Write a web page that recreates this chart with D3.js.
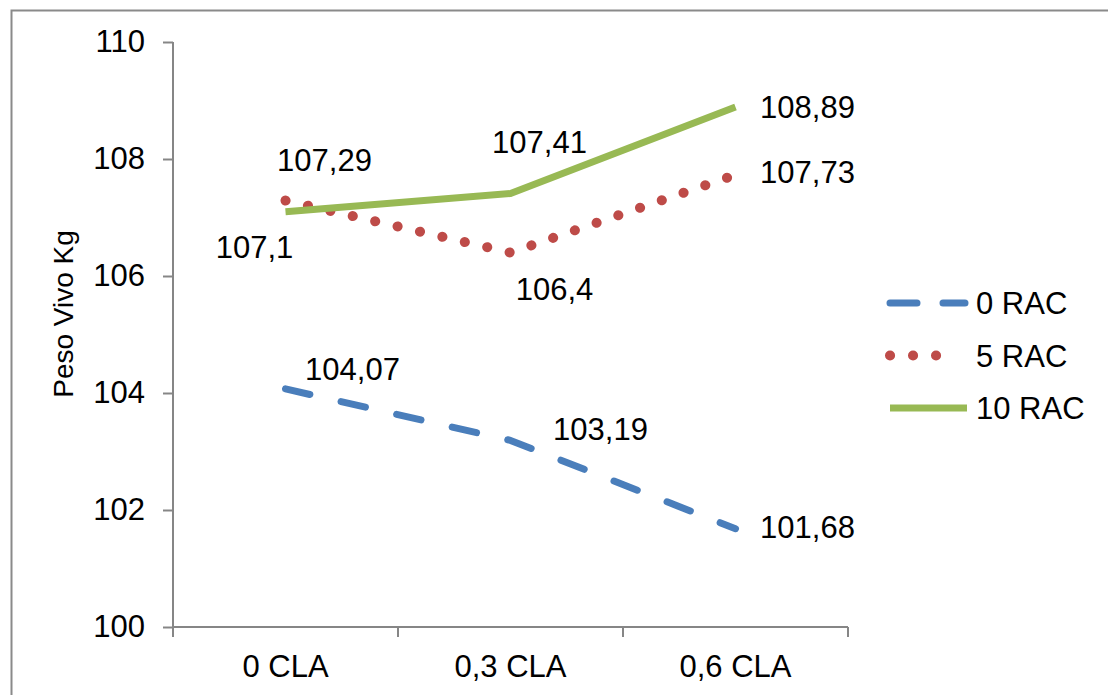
<!DOCTYPE html>
<html>
<head>
<meta charset="utf-8">
<script src="https://cdn.jsdelivr.net/npm/d3@7/dist/d3.min.js"></script>
<style>
  html, body { margin: 0; padding: 0; background: #fff; }
  svg { display: block; }
  text { font-family: "Liberation Sans", Arial, sans-serif; fill: #000; }
</style>
</head>
<body>
<svg id="chart" width="1108" height="695"></svg>
<script>
// Categories on the x axis (CLA dose)
const categories = ["0 CLA", "0,3 CLA", "0,6 CLA"];

// Live weight (kg) per RAC level
const seriesNames = ["0 RAC", "5 RAC", "10 RAC"];
const rac0  = [104.07, 103.19, 101.68];
const rac5  = [107.29, 106.40, 107.73];
const rac10 = [107.10, 107.41, 108.89];

// Y axis ticks
const yTicks = [100, 102, 104, 106, 108, 110];

// Per-series drawing styles
const styles = [
  { color: "#4a7ebb", width: 7, dash: "25 32", cap: "round", legendDash: "27 26", legendEnd: 965 },
  { color: "#be4b48", width: 10, dash: "0.1 22.9", cap: "round", legendDash: "0.1 22.9", legendEnd: 940 },
  { color: "#98b954", width: 7, dash: null, cap: "butt", legendDash: null, legendEnd: 967 }
];

// Data-label offsets (dx, dy from the point to the text centre/baseline)
const labelOffsets = [
  [[67, -9], [90, 0], [72, 9]],
  [[39, -30], [44, 47], [72, 8]],
  [[-31, 46], [29, -41], [72, 11]]
];

const series = [rac0, rac5, rac10];
const fmt = v => String(+v.toFixed(2)).replace(".", ",");

const svg = d3.select("#chart");
const font = 31;

// Outer frame
svg.append("rect")
  .attr("x", 11.5).attr("y", 10.5)
  .attr("width", 1300).attr("height", 1000)
  .attr("fill", "none").attr("stroke", "#8a8a8a").attr("stroke-width", 2);

const x0 = 173, x1 = 848, yTop = 42, yBot = 627;

const x = d3.scaleBand().domain(categories).range([x0, x1]).paddingInner(0).paddingOuter(0);
const xc = c => x(c) + x.bandwidth() / 2;
const y = d3.scaleLinear().domain([100, 110]).range([yBot, yTop]);

// Y axis
const yAxis = svg.append("g")
  .attr("transform", `translate(${x0},0)`)
  .call(d3.axisLeft(y).tickValues(yTicks).tickSize(10).tickPadding(18).tickFormat(d => d));
yAxis.select(".domain").attr("stroke", "#868686").attr("stroke-width", 2).attr("d", `M0,${yTop}V${yBot}`);
yAxis.selectAll(".tick line").attr("stroke", "#868686").attr("stroke-width", 2);
yAxis.selectAll(".tick text").attr("font-size", font).attr("font-family", "Liberation Sans, Arial, sans-serif").attr("fill", "#000");

// X axis: labels at band centres, ticks at band boundaries
const xAxis = svg.append("g")
  .attr("transform", `translate(0,${yBot})`)
  .call(d3.axisBottom(x).tickSize(0).tickPadding(28));
xAxis.select(".domain").attr("stroke", "#868686").attr("stroke-width", 2).attr("d", `M${x0},0H${x1}`);
xAxis.selectAll(".tick text").attr("font-size", font).attr("font-family", "Liberation Sans, Arial, sans-serif").attr("fill", "#000");
const bounds = categories.map(c => x(c)).concat([x1]);
svg.append("g").selectAll("line").data(bounds).join("line")
  .attr("x1", d => d).attr("x2", d => d)
  .attr("y1", yBot).attr("y2", yBot + 10)
  .attr("stroke", "#868686").attr("stroke-width", 2);

// Y axis title
svg.append("text")
  .attr("transform", "translate(73,314) rotate(-90)")
  .attr("text-anchor", "middle")
  .attr("font-size", 28)
  .text("Peso Vivo Kg");

// Series lines
const line = d3.line().x((d, i) => xc(categories[i])).y(d => y(d));
series.forEach((vals, s) => {
  const st = styles[s];
  svg.append("path")
    .datum(vals)
    .attr("d", line)
    .attr("fill", "none")
    .attr("stroke", st.color)
    .attr("stroke-width", st.width)
    .attr("stroke-linecap", st.cap)
    .attr("stroke-linejoin", "round")
    .attr("stroke-dasharray", st.dash);
});

// Data labels
series.forEach((vals, s) => {
  svg.append("g").selectAll("text").data(vals).join("text")
    .attr("x", (d, i) => xc(categories[i]) + labelOffsets[s][i][0])
    .attr("y", (d, i) => y(d) + labelOffsets[s][i][1])
    .attr("text-anchor", "middle")
    .attr("font-size", font)
    .text(d => fmt(d));
});

// Legend
const legend = svg.append("g");
seriesNames.forEach((name, s) => {
  const st = styles[s];
  const ly = 303 + s * 52.5;
  legend.append("line")
    .attr("x1", 890).attr("x2", st.legendEnd).attr("y1", ly).attr("y2", ly)
    .attr("stroke", st.color).attr("stroke-width", st.width)
    .attr("stroke-linecap", st.cap)
    .attr("stroke-dasharray", st.legendDash);
  legend.append("text")
    .attr("x", 976).attr("y", ly + 11)
    .attr("font-size", font)
    .text(name);
});
</script>
</body>
</html>
